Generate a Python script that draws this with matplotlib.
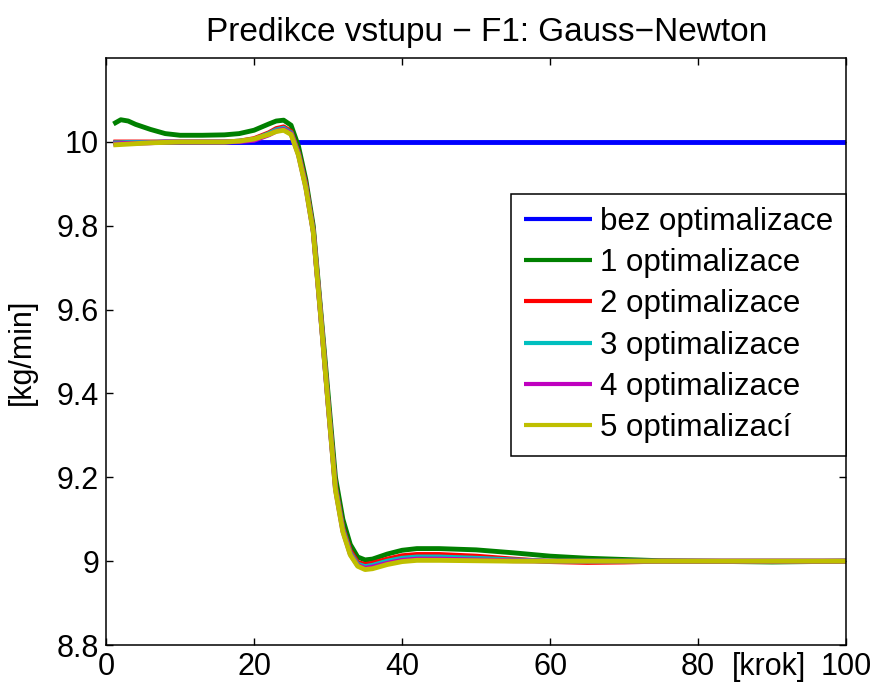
import matplotlib
matplotlib.use("Agg")
import matplotlib.pyplot as plt

plt.rcParams['font.family'] = ['Liberation Sans', 'DejaVu Sans']

steps = [1, 2, 3, 4, 6, 8, 10, 13, 16, 18, 20, 22, 23, 24, 25, 26, 27, 28, 29, 30,
         31, 32, 33, 34, 35, 36, 38, 40, 42, 45, 50, 55, 60, 65, 70, 75, 80, 85, 90, 95, 100]

bez = [10.0] * len(steps)

opt1 = [10.043, 10.053, 10.050, 10.042, 10.030, 10.020, 10.016, 10.016, 10.017, 10.020,
        10.028, 10.043, 10.050, 10.052, 10.040, 9.990, 9.910, 9.800, 9.600, 9.400,
        9.200, 9.100, 9.040, 9.010, 9.003, 9.005, 9.017, 9.026, 9.030, 9.030,
        9.027, 9.020, 9.012, 9.007, 9.004, 9.001, 9.000, 8.999, 8.998, 8.999, 9.000]

opt2 = [10.000, 10.000, 10.000, 10.000, 10.000, 10.000, 10.000, 10.000, 10.000, 10.002,
        10.008, 10.022, 10.032, 10.036, 10.025, 9.975, 9.900, 9.790, 9.590, 9.380,
        9.180, 9.080, 9.025, 8.997, 8.992, 8.995, 9.005, 9.013, 9.016, 9.016,
        9.012, 9.005, 8.999, 8.997, 8.998, 9.000, 9.000, 9.000, 9.000, 9.000, 9.000]

opt3 = [9.998, 9.998, 9.999, 9.999, 9.999, 10.000, 10.000, 10.000, 10.000, 10.002,
        10.006, 10.020, 10.029, 10.033, 10.022, 9.972, 9.895, 9.788, 9.588, 9.378,
        9.176, 9.076, 9.020, 8.993, 8.987, 8.990, 9.000, 9.007, 9.010, 9.010,
        9.007, 9.003, 9.000, 9.000, 9.000, 9.000, 9.000, 9.000, 9.000, 9.000, 9.000]

opt4 = [9.995, 9.996, 9.997, 9.997, 9.998, 10.000, 10.000, 10.000, 10.000, 10.001,
        10.004, 10.017, 10.026, 10.030, 10.020, 9.970, 9.892, 9.786, 9.586, 9.376,
        9.172, 9.072, 9.017, 8.990, 8.983, 8.986, 8.995, 9.002, 9.005, 9.005,
        9.003, 9.001, 9.000, 9.000, 9.000, 9.000, 9.000, 9.000, 9.000, 9.000, 9.000]

opt5 = [9.993, 9.994, 9.995, 9.996, 9.998, 9.999, 10.000, 10.000, 10.000, 10.002,
        10.007, 10.018, 10.025, 10.028, 10.018, 9.968, 9.890, 9.785, 9.585, 9.375,
        9.170, 9.070, 9.015, 8.988, 8.980, 8.982, 8.992, 8.999, 9.002, 9.002,
        9.001, 9.000, 9.000, 9.000, 9.000, 9.000, 9.000, 9.000, 9.000, 9.000, 9.000]

labels = ['bez optimalizace', '1 optimalizace', '2 optimalizace',
          '3 optimalizace', '4 optimalizace', '5 optimalizací']
colors = ['#0000ff', '#008000', '#ff0000', '#00bfbf', '#bf00bf', '#bfbf00']
series = [bez, opt1, opt2, opt3, opt4, opt5]

fig = plt.figure(figsize=(8.76, 6.84), dpi=100)
ax = fig.add_axes([0.121, 0.057, 0.845, 0.858])

for vals, lab, col in zip(series, labels, colors):
    ax.plot(steps, vals, color=col, lw=3.5, label=lab, solid_capstyle='butt')

ax.set_xlim(0, 100)
ax.set_ylim(8.8, 10.2)
ax.set_xticks([0, 20, 40, 60, 80, 100])
ax.set_yticks([8.8, 9.0, 9.2, 9.4, 9.6, 9.8, 10.0])
ax.set_yticklabels(['8.8', '9', '9.2', '9.4', '9.6', '9.8', '10'])
ax.tick_params(direction='in', length=5, width=1, labelsize=22, pad=5,
               top=True, right=True)
for s in ax.spines.values():
    s.set_linewidth(1.1)

ax.set_title('Predikce vstupu \u2212 F1: Gauss\u2212Newton', fontsize=24, pad=12, x=0.514)
ax.set_ylabel('[kg/min]', fontsize=22, labelpad=14)
ax.text(0.896, -0.012, '[krok]', transform=ax.transAxes, ha='center', va='top',
        fontsize=22)

leg = ax.legend(loc='upper right', bbox_to_anchor=(1.0, 0.768), borderaxespad=0,
                fontsize=22.5, fancybox=False, framealpha=1, edgecolor='black',
                handlelength=2.2, handletextpad=0.26, labelspacing=0.36,
                borderpad=0.4)
leg.get_frame().set_linewidth(1.1)
for h in leg.get_lines():
    h.set_linewidth(3)

fig.savefig('out.png', dpi=100)
